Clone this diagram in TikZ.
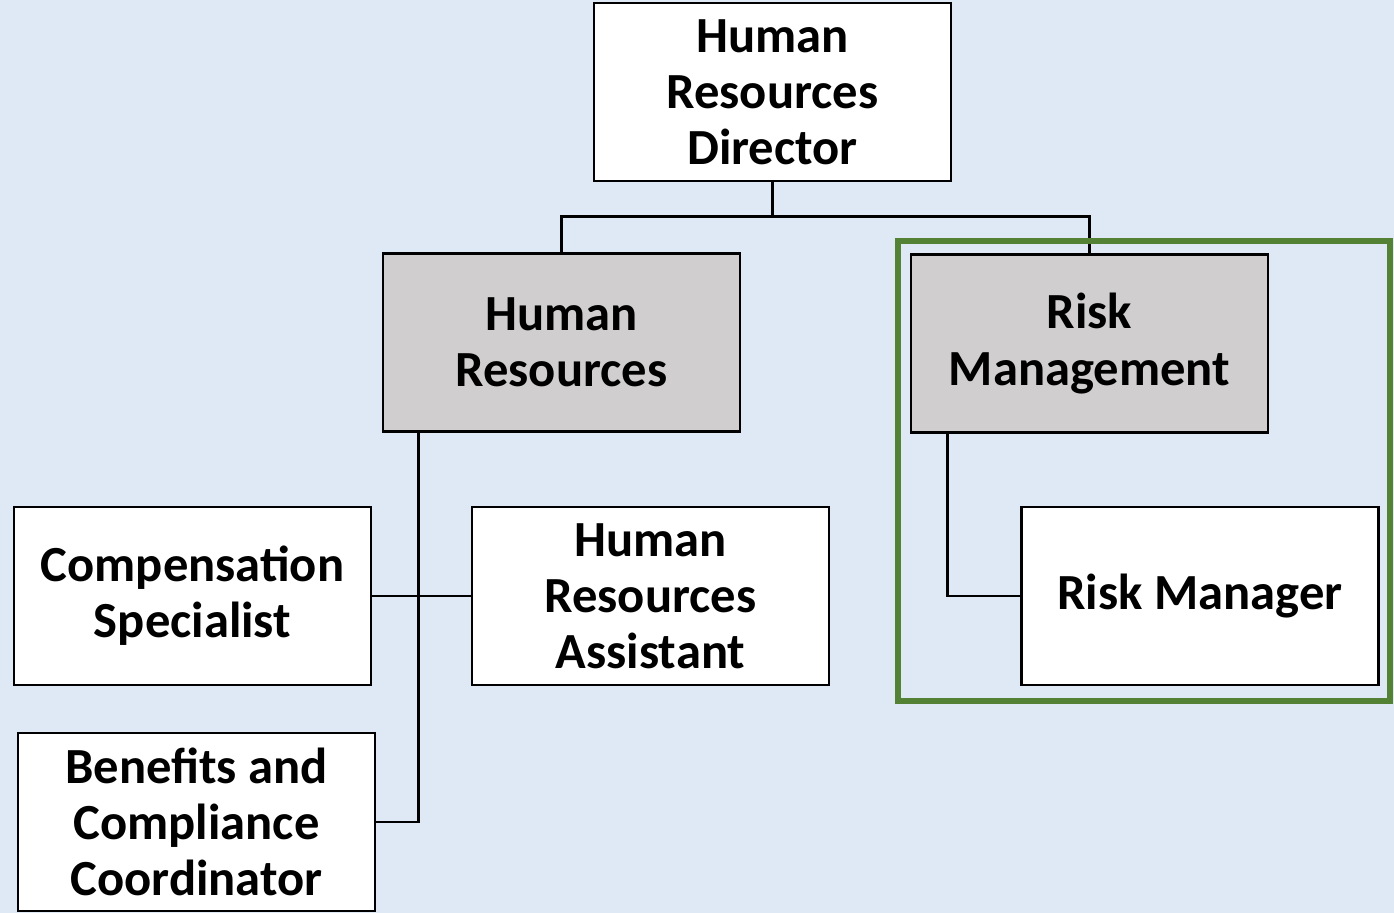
\documentclass[tikz,border=0pt]{standalone}
\usepackage{fontspec}
\setmainfont{Carlito}
\usetikzlibrary{positioning, calc}
\definecolor{bgblue}{HTML}{DEE9F5}
\definecolor{unitgray}{HTML}{D0CECE}
\definecolor{framegreen}{HTML}{548235}
\tikzset{post/.style={draw=black, line width=1.5pt, minimum width=7.14cm, minimum height=3.56cm, align=center, fill=white, font=\fontsize{28.8}{32}\selectfont\bfseries, inner sep=0pt}}
\tikzset{unit/.append style={post, fill=unitgray}}
\tikzset{link/.style={draw=black, line width=1.5pt}}

\begin{document}
\begin{tikzpicture}[x=0.02cm, y=-0.02cm]
      \fill[bgblue] (0,0) rectangle (1394,913);
      \useasboundingbox (0,0) rectangle (1394,913);

      \node[post] (director) at (772.5,92) {Human\\Resources\\Director};

      \node[unit] (hr) at (561.5,342.5) {Human\\Resources};
      \node[unit] (risk) at (1089.5,343.5) {Risk\\Management};

      \node[post] (comp) at (192.5,596) {Compensation\\Specialist};
      \node[post] (assist) at (650.5,596) {Human\\Resources\\Assistant};
      \node[post] (benefits) at (196.5,822) {Benefits and\\Compliance\\Coordinator};
      \node[post] (riskmgr) at (1200,596) {Risk Manager};

      % director to the two units
      \coordinate (split) at ($(director.south)+(0,34)$);
      \draw[link] (director.south) -- (split) -| (hr.north);
      \draw[link] (split) -| (risk.north);

      % human resources staff
      \coordinate (hrtrunk) at ($(hr.south west)+(37,0)$);
      \draw[link] (hrtrunk) |- (benefits.east);
      \draw[link] (comp.east) -- (assist.west);

      % risk management staff
      \coordinate (risktrunk) at ($(risk.south west)+(38,0)$);
      \draw[link] (risktrunk) |- (riskmgr.west);

      \draw[framegreen, line width=3.6pt] (898,241) rectangle (1390,701);
    \end{tikzpicture}
\end{document}
